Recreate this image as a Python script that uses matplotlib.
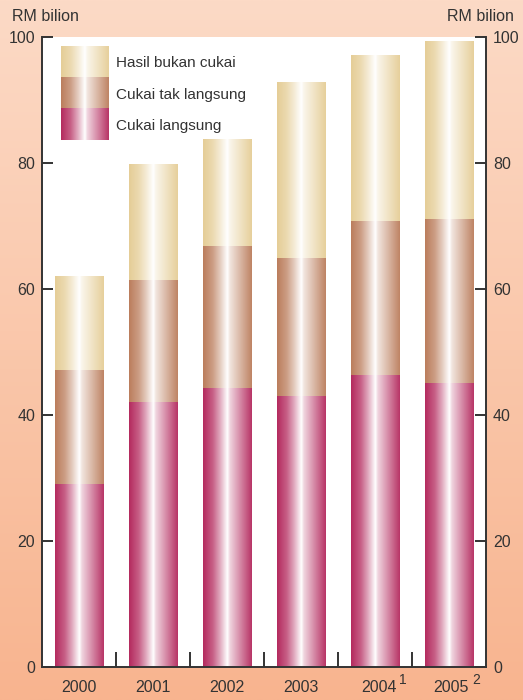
import matplotlib
matplotlib.use("Agg")
import matplotlib.pyplot as plt
import matplotlib.colors as mcolors
import matplotlib.transforms as mtransforms
import numpy as np

plt.rcParams['font.family'] = ['Liberation Sans', 'DejaVu Sans']

years = ['2000', '2001', '2002', '2003', '2004', '2005']
footnotes = ['', '', '', '', '1', '2']
# RM billion, stacked components
cukai_langsung = [29.0, 42.1, 44.3, 43.0, 46.3, 45.1]
cukai_tak_langsung = [18.1, 19.3, 22.5, 21.9, 24.5, 26.0]
hasil_bukan_cukai = [14.8, 18.3, 16.9, 27.8, 26.2, 28.1]

series_names = ['Cukai langsung', 'Cukai tak langsung', 'Hasil bukan cukai']
series_colors = ['#b42a5e', '#bb7d5c', '#e5cd96']

text_col = '#333333'


def gradient(color, n=200):
    # cylinder-like shading: dark edges, white highlight just left of centre
    base = np.array(mcolors.to_rgb(color))
    t = np.linspace(0, 1, n)
    f = np.interp(t, [0, 0.2, 0.35, 0.5, 0.55, 0.7, 0.85, 1.0],
                  [0.0, 0.25, 0.6, 1.0, 0.8, 0.55, 0.3, 0.05])
    rgb = base[None, :] * (1 - f[:, None]) + f[:, None]
    return rgb[None, :, :]


fig = plt.figure(figsize=(5.23, 7.0), dpi=100)

# peach background gradient
bg = fig.add_axes([0, 0, 1, 1], zorder=-1)
top = np.array(mcolors.to_rgb('#fcdac6'))
bot = np.array(mcolors.to_rgb('#f8b48f'))
s = np.linspace(0, 1, 256)[:, None]
bg.imshow((top * (1 - s) + bot * s)[:, None, :], aspect='auto', extent=[0, 1, 0, 1])
bg.axis('off')

ax = fig.add_axes([0.0803, 0.0471, 0.849, 0.9])
ax.set_facecolor('white')

x = np.arange(len(years))
bottom = np.zeros(len(years))
for vals, col in zip([cukai_langsung, cukai_tak_langsung, hasil_bukan_cukai], series_colors):
    bars = ax.bar(x, vals, width=0.65, bottom=bottom, color='none', linewidth=0)
    img = gradient(col)
    for b in bars:
        ax.imshow(img, extent=[b.get_x(), b.get_x() + b.get_width(),
                               b.get_y(), b.get_y() + b.get_height()],
                  aspect='auto', interpolation='bilinear', zorder=2)
    bottom = bottom + np.array(vals)

ax.set_xlim(-0.5, len(years) - 0.5)
ax.set_ylim(0, 100)
ax.set_aspect('auto')

ax.set_yticks(np.arange(0, 101, 20))
ax.tick_params(axis='y', direction='in', length=8, width=1.4, color=text_col,
               labelsize=11.5, labelcolor=text_col, left=True, right=True,
               labelleft=True, labelright=True, pad=5)
ax.set_xticks(x)
ax.set_xticklabels(years)
ax.tick_params(axis='x', which='major', length=0, labelsize=11.5, labelcolor=text_col, pad=9)
ax.set_xticks(x[:-1] + 0.5, minor=True)
ax.tick_params(axis='x', which='minor', direction='in', length=11, width=1.4, color=text_col)

for side in ['left', 'right', 'bottom']:
    ax.spines[side].set_color(text_col)
    ax.spines[side].set_linewidth(1.4)
ax.spines['top'].set_visible(False)

# footnote superscripts on the year labels
blend = mtransforms.blended_transform_factory(ax.transData, ax.transAxes)
for lab, xi, note in zip(ax.get_xticklabels(), x, footnotes):
    if note:
        shift = mtransforms.ScaledTranslation((4 if note == '1' else 2) / 100, 0,
                                              fig.dpi_scale_trans)
        lab.set_transform(lab.get_transform() + shift)
        ax.annotate(note, xy=(xi, 0), xycoords=blend, xytext=(17, -9),
                    textcoords='offset points', fontsize=10, color=text_col,
                    ha='left', va='center')

# stacked legend block
lx0, lx1 = 0.043, 0.151
edges = [0.8365, 0.887, 0.9365, 0.9857]
for i, (name, col) in enumerate(zip(series_names, series_colors)):
    ax.imshow(gradient(col), extent=[lx0, lx1, edges[i], edges[i + 1]],
              transform=ax.transAxes, aspect='auto', interpolation='bilinear', zorder=3)
    ax.text(0.167, (edges[i] + edges[i + 1]) / 2 - 0.003, name, transform=ax.transAxes,
            fontsize=11, color=text_col, va='center', ha='left', zorder=4)
ax.set_xlim(-0.5, len(years) - 0.5)
ax.set_ylim(0, 100)

fig.text(0.023, 0.976, 'RM bilion', fontsize=11.5, color=text_col, ha='left', va='center')
fig.text(0.983, 0.976, 'RM bilion', fontsize=11.5, color=text_col, ha='right', va='center')

fig.savefig('out.png', dpi=100)
